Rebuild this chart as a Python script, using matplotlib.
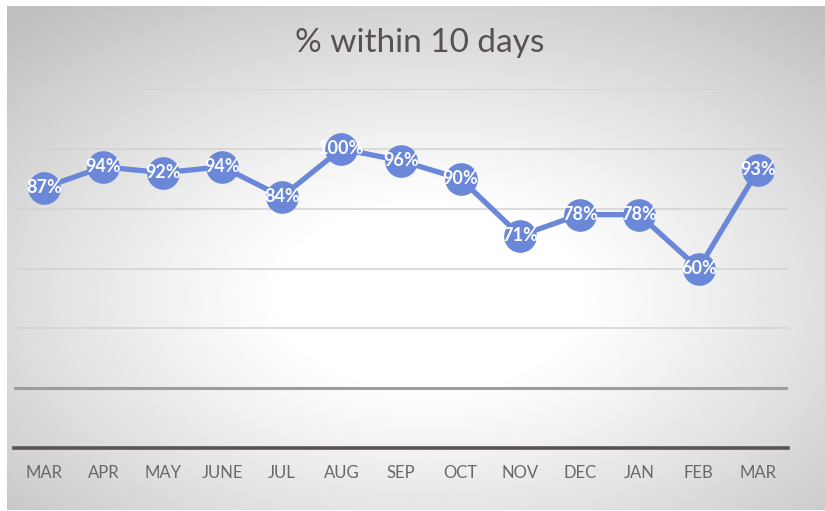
import numpy as np
import matplotlib
matplotlib.use("Agg")
import matplotlib.pyplot as plt

plt.rcParams['font.family'] = ['Lato', 'DejaVu Sans']

months = ['MAR', 'APR', 'MAY', 'JUNE', 'JUL', 'AUG', 'SEP', 'OCT', 'NOV', 'DEC', 'JAN', 'FEB', 'MAR']
pct = [87, 94, 92, 94, 84, 100, 96, 90, 71, 78, 78, 60, 93]
title = '% within 10 days'

W, H = 825, 511
fig = plt.figure(figsize=(W / 100, H / 100), dpi=100, facecolor='white')

# radial grey-to-white background
bg = fig.add_axes([7 / W, 1 / H, 1 - 7 / W, 1 - 7 / H], zorder=-1)
yy, xx = np.mgrid[0:400, 0:640]
r = np.sqrt(((xx - 330) / 520) ** 2 + ((yy - 230) / 320) ** 2)
val = 1 - 0.25 * np.clip((r - 0.22) / 0.7, 0, 1) ** 1.1
bg.imshow(val, cmap='gray', vmin=0, vmax=1, aspect='auto', interpolation='bilinear')
bg.axis('off')

ax = fig.add_axes([14 / W, (H - 448) / H, (788 - 14) / W, (448 - 89) / H])
ax.patch.set_alpha(0)
x = np.arange(len(months))
ax.set_xlim(-0.5, len(months) - 0.5)
ax.set_ylim(0, 120)

for g in [40, 60, 80, 100, 120]:
    ax.axhline(g, color='#d2d2d2', lw=1.1, zorder=1)
ax.axhline(20, color='#9e9c9c', lw=2.2, zorder=1)
ax.axhline(0, color='#5b5252', lw=2.6, zorder=1, clip_on=False)

ax.plot(x, pct, color='#6a87d8', lw=3.8, marker='o', markersize=22.5,
        markerfacecolor='#6a87d8', markeredgecolor='#6a87d8', zorder=3)
for xi, v in zip(x, pct):
    ax.text(xi, v, f'{v}%', ha='center', va='center', color='white',
            fontsize=13, fontweight='bold', zorder=4)

ax.set_xticks(x)
ax.set_xticklabels(months, color='#6d6868', fontsize=12)
ax.tick_params(axis='x', length=0, pad=12)
ax.set_yticks([])
for s in ax.spines.values():
    s.set_visible(False)

fig.text(420 / W, 1 - 43 / H, title, ha='center', va='center', fontsize=24, color='#595050')

fig.savefig('out.png', dpi=100)
